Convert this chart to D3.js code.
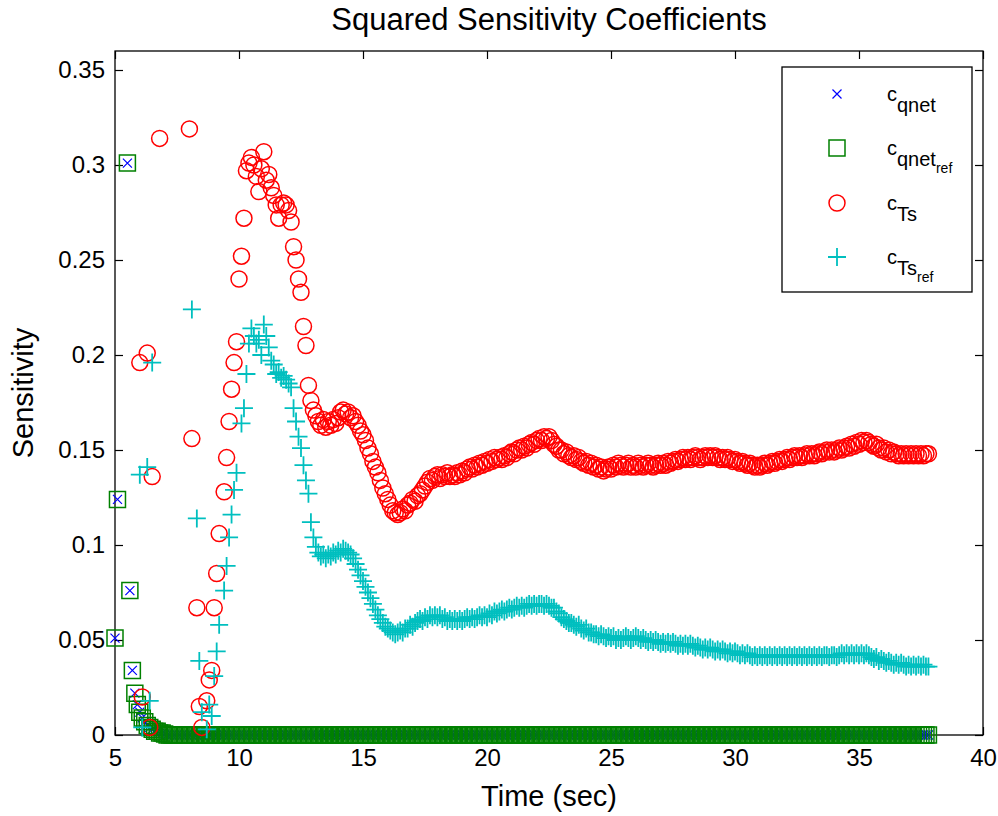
<!DOCTYPE html>
<html>
<head>
<meta charset="utf-8">
<script src="https://cdn.jsdelivr.net/npm/d3@7"></script>
<style>
  body { margin: 0; background: #fff; }
  text { font-family: "Liberation Sans", Arial, sans-serif; fill: #000; }
</style>
</head>
<body>
<svg id="chart"></svg>
<script>
// sample times (sec), one sample every 0.1 s
const time = [
  5.0, 5.1, 5.2, 5.3, 5.4, 5.5, 5.6, 5.7, 5.8, 5.9,
  6.0, 6.1, 6.2, 6.3, 6.4, 6.5, 6.6, 6.7, 6.8, 6.9,
  7.0, 7.1, 7.2, 7.3, 7.4, 7.5, 7.6, 7.7, 7.8, 7.9,
  8.0, 8.1, 8.2, 8.3, 8.4, 8.5, 8.6, 8.7, 8.8, 8.9,
  9.0, 9.1, 9.2, 9.3, 9.4, 9.5, 9.6, 9.7, 9.8, 9.9,
  10.0, 10.1, 10.2, 10.3, 10.4, 10.5, 10.6, 10.7, 10.8, 10.9,
  11.0, 11.1, 11.2, 11.3, 11.4, 11.5, 11.6, 11.7, 11.8, 11.9,
  12.0, 12.1, 12.2, 12.3, 12.4, 12.5, 12.6, 12.7, 12.8, 12.9,
  13.0, 13.1, 13.2, 13.3, 13.4, 13.5, 13.6, 13.7, 13.8, 13.9,
  14.0, 14.1, 14.2, 14.3, 14.4, 14.5, 14.6, 14.7, 14.8, 14.9,
  15.0, 15.1, 15.2, 15.3, 15.4, 15.5, 15.6, 15.7, 15.8, 15.9,
  16.0, 16.1, 16.2, 16.3, 16.4, 16.5, 16.6, 16.7, 16.8, 16.9,
  17.0, 17.1, 17.2, 17.3, 17.4, 17.5, 17.6, 17.7, 17.8, 17.9,
  18.0, 18.1, 18.2, 18.3, 18.4, 18.5, 18.6, 18.7, 18.8, 18.9,
  19.0, 19.1, 19.2, 19.3, 19.4, 19.5, 19.6, 19.7, 19.8, 19.9,
  20.0, 20.1, 20.2, 20.3, 20.4, 20.5, 20.6, 20.7, 20.8, 20.9,
  21.0, 21.1, 21.2, 21.3, 21.4, 21.5, 21.6, 21.7, 21.8, 21.9,
  22.0, 22.1, 22.2, 22.3, 22.4, 22.5, 22.6, 22.7, 22.8, 22.9,
  23.0, 23.1, 23.2, 23.3, 23.4, 23.5, 23.6, 23.7, 23.8, 23.9,
  24.0, 24.1, 24.2, 24.3, 24.4, 24.5, 24.6, 24.7, 24.8, 24.9,
  25.0, 25.1, 25.2, 25.3, 25.4, 25.5, 25.6, 25.7, 25.8, 25.9,
  26.0, 26.1, 26.2, 26.3, 26.4, 26.5, 26.6, 26.7, 26.8, 26.9,
  27.0, 27.1, 27.2, 27.3, 27.4, 27.5, 27.6, 27.7, 27.8, 27.9,
  28.0, 28.1, 28.2, 28.3, 28.4, 28.5, 28.6, 28.7, 28.8, 28.9,
  29.0, 29.1, 29.2, 29.3, 29.4, 29.5, 29.6, 29.7, 29.8, 29.9,
  30.0, 30.1, 30.2, 30.3, 30.4, 30.5, 30.6, 30.7, 30.8, 30.9,
  31.0, 31.1, 31.2, 31.3, 31.4, 31.5, 31.6, 31.7, 31.8, 31.9,
  32.0, 32.1, 32.2, 32.3, 32.4, 32.5, 32.6, 32.7, 32.8, 32.9,
  33.0, 33.1, 33.2, 33.3, 33.4, 33.5, 33.6, 33.7, 33.8, 33.9,
  34.0, 34.1, 34.2, 34.3, 34.4, 34.5, 34.6, 34.7, 34.8, 34.9,
  35.0, 35.1, 35.2, 35.3, 35.4, 35.5, 35.6, 35.7, 35.8, 35.9,
  36.0, 36.1, 36.2, 36.3, 36.4, 36.5, 36.6, 36.7, 36.8, 36.9,
  37.0, 37.1, 37.2, 37.3, 37.4, 37.5, 37.6, 37.7, 37.8
];

// null = no marker visible at that time (value above the axes)
const cQnet = [
  0.051, 0.124, null, null, null, 0.301, 0.076, 0.034, 0.022, 0.016,
  0.012, 0.009, 0.007, 0.005, 0.004, 0.003, 0.002, 0.002, 0.001, 0.001,
  0.0005, 0, 0, 0, 0, 0, 0, 0, 0, 0,
  0, 0, 0, 0, 0, 0, 0, 0, 0, 0,
  0, 0, 0, 0, 0, 0, 0, 0, 0, 0,
  0, 0, 0, 0, 0, 0, 0, 0, 0, 0,
  0, 0, 0, 0, 0, 0, 0, 0, 0, 0,
  0, 0, 0, 0, 0, 0, 0, 0, 0, 0,
  0, 0, 0, 0, 0, 0, 0, 0, 0, 0,
  0, 0, 0, 0, 0, 0, 0, 0, 0, 0,
  0, 0, 0, 0, 0, 0, 0, 0, 0, 0,
  0, 0, 0, 0, 0, 0, 0, 0, 0, 0,
  0, 0, 0, 0, 0, 0, 0, 0, 0, 0,
  0, 0, 0, 0, 0, 0, 0, 0, 0, 0,
  0, 0, 0, 0, 0, 0, 0, 0, 0, 0,
  0, 0, 0, 0, 0, 0, 0, 0, 0, 0,
  0, 0, 0, 0, 0, 0, 0, 0, 0, 0,
  0, 0, 0, 0, 0, 0, 0, 0, 0, 0,
  0, 0, 0, 0, 0, 0, 0, 0, 0, 0,
  0, 0, 0, 0, 0, 0, 0, 0, 0, 0,
  0, 0, 0, 0, 0, 0, 0, 0, 0, 0,
  0, 0, 0, 0, 0, 0, 0, 0, 0, 0,
  0, 0, 0, 0, 0, 0, 0, 0, 0, 0,
  0, 0, 0, 0, 0, 0, 0, 0, 0, 0,
  0, 0, 0, 0, 0, 0, 0, 0, 0, 0,
  0, 0, 0, 0, 0, 0, 0, 0, 0, 0,
  0, 0, 0, 0, 0, 0, 0, 0, 0, 0,
  0, 0, 0, 0, 0, 0, 0, 0, 0, 0,
  0, 0, 0, 0, 0, 0, 0, 0, 0, 0,
  0, 0, 0, 0, 0, 0, 0, 0, 0, 0,
  0, 0, 0, 0, 0, 0, 0, 0, 0, 0,
  0, 0, 0, 0, 0, 0, 0, 0, 0, 0,
  0, 0, 0, 0, 0, 0, 0, 0, 0
];

// the reference-model qnet coefficient lies exactly on top of cQnet
const cQnetRef = cQnet.slice();

const cTs = [
  null, null, null, null, null, null, null, null, null, null,
  0.196, 0.020, null, 0.201, 0.004, 0.136, null, null, 0.314, null,
  null, null, null, null, null, null, null, null, null, null,
  0.319, 0.156, null, 0.067, 0.015, 0.004, null, 0.018, 0.029, 0.034,
  0.067, 0.085, 0.106, null, 0.128, 0.146, 0.165, 0.182, 0.196, 0.207,
  0.240, 0.252, 0.272, 0.297, 0.301, 0.304, 0.300, 0.294, 0.286, 0.298,
  0.307, 0.292, 0.295, 0.288, 0.284, 0.279, 0.272, 0.279, 0.280, 0.279,
  0.276, 0.270, 0.257, 0.250, 0.240, 0.233, 0.215, 0.205, 0.184, 0.176,
  0.171, 0.168, 0.165, 0.163, 0.166, 0.162, 0.165, 0.163, 0.166, 0.164,
  0.167, 0.170, 0.171, 0.169, 0.170, 0.167, 0.168, 0.165, 0.163, 0.160,
  0.158, 0.155, 0.151, 0.148, 0.144, 0.141, 0.138, 0.134, 0.130, 0.127,
  0.124, 0.121, 0.118, 0.117, 0.116, 0.117, 0.119, 0.118, 0.121, 0.122,
  0.124, 0.123, 0.126, 0.127, 0.129, 0.131, 0.133, 0.135, 0.134, 0.136,
  0.137, 0.135, 0.137, 0.136, 0.138, 0.136, 0.137, 0.136, 0.138, 0.137,
  0.139, 0.138, 0.140, 0.141, 0.140, 0.142, 0.141, 0.143, 0.142, 0.144,
  0.143, 0.145, 0.144, 0.146, 0.145, 0.146, 0.145, 0.147, 0.146, 0.148,
  0.149, 0.148, 0.150, 0.151, 0.150, 0.152, 0.151, 0.153, 0.154, 0.153,
  0.155, 0.156, 0.155, 0.157, 0.156, 0.157, 0.155, 0.153, 0.152, 0.150,
  0.150, 0.148, 0.149, 0.147, 0.146, 0.147, 0.145, 0.146, 0.144, 0.143,
  0.144, 0.142, 0.143, 0.141, 0.142, 0.140, 0.141, 0.139, 0.140, 0.141,
  0.140, 0.142, 0.141, 0.143, 0.142, 0.141, 0.142, 0.143, 0.141, 0.142,
  0.141, 0.143, 0.142, 0.141, 0.142, 0.143, 0.142, 0.141, 0.142, 0.143,
  0.142, 0.143, 0.142, 0.144, 0.143, 0.144, 0.145, 0.144, 0.145, 0.146,
  0.145, 0.146, 0.145, 0.146, 0.147, 0.146, 0.145, 0.146, 0.147, 0.146,
  0.147, 0.146, 0.147, 0.146, 0.145, 0.146, 0.145, 0.146, 0.145, 0.144,
  0.145, 0.144, 0.143, 0.144, 0.143, 0.142, 0.143, 0.142, 0.141, 0.142,
  0.141, 0.142, 0.143, 0.142, 0.143, 0.144, 0.143, 0.144, 0.145, 0.144,
  0.145, 0.146, 0.145, 0.146, 0.147, 0.146, 0.147, 0.146, 0.147, 0.148,
  0.147, 0.148, 0.147, 0.148, 0.149, 0.148, 0.149, 0.150, 0.149, 0.150,
  0.149, 0.150, 0.151, 0.150, 0.151, 0.152, 0.151, 0.153, 0.152, 0.154,
  0.153, 0.155, 0.154, 0.155, 0.154, 0.153, 0.152, 0.153, 0.151, 0.150,
  0.151, 0.149, 0.150, 0.148, 0.149, 0.148, 0.147, 0.148, 0.147, 0.148,
  0.147, 0.148, 0.147, 0.148, 0.147, 0.148, 0.147, 0.148, 0.148
];

const cTsRef = [
  null, null, null, null, null, null, null, null, null, null,
  0.137, 0.004, null, 0.141, 0.018, 0.196, null, null, null, null,
  null, null, null, null, null, null, null, null, null, null,
  null, 0.224, null, 0.114, 0.039, 0.012, null, 0.003, 0.016, 0.010,
  0.031, 0.044, 0.058, null, 0.076, 0.089, 0.104, 0.116, 0.129, 0.138,
  null, 0.164, 0.172, 0.190, 0.206, 0.214, 0.210, 0.206, 0.208, 0.200,
  0.216, 0.210, 0.204, 0.197, 0.195, 0.190, 0.191, 0.188, 0.189, 0.187,
  0.185, 0.183, 0.172, 0.165, 0.157, 0.151, 0.142, 0.134, 0.127, 0.112,
  0.104, 0.099, 0.096, 0.094, 0.095, 0.093, 0.095, 0.094, 0.096, 0.095,
  0.097, 0.096, 0.098, 0.097, 0.096, 0.095, 0.093, 0.090, 0.087, 0.084,
  0.081, 0.078, 0.075, 0.072, 0.069, 0.066, 0.063, 0.061, 0.059, 0.057,
  0.056, 0.055, 0.054, 0.053, 0.054, 0.055, 0.054, 0.056, 0.056, 0.058,
  0.057, 0.059, 0.060, 0.061, 0.060, 0.062, 0.061, 0.063, 0.062, 0.063,
  0.062, 0.063, 0.061, 0.062, 0.060, 0.061, 0.060, 0.061, 0.060, 0.061,
  0.060, 0.061, 0.062, 0.061, 0.062, 0.061, 0.062, 0.063, 0.062, 0.063,
  0.062, 0.064, 0.063, 0.065, 0.064, 0.065, 0.066, 0.065, 0.066, 0.067,
  0.066, 0.067, 0.068, 0.067, 0.068, 0.067, 0.068, 0.069, 0.068, 0.069,
  0.068, 0.069, 0.069, 0.068, 0.069, 0.068, 0.067, 0.067, 0.065, 0.064,
  0.062, 0.061, 0.060, 0.059, 0.059, 0.058, 0.057, 0.058, 0.056, 0.055,
  0.056, 0.054, 0.054, 0.053, 0.053, 0.052, 0.053, 0.052, 0.051, 0.052,
  0.051, 0.052, 0.050, 0.051, 0.050, 0.051, 0.052, 0.051, 0.050, 0.051,
  0.052, 0.051, 0.050, 0.051, 0.050, 0.049, 0.050, 0.049, 0.050, 0.049,
  0.048, 0.049, 0.048, 0.049, 0.048, 0.049, 0.048, 0.047, 0.048, 0.047,
  0.048, 0.047, 0.048, 0.047, 0.046, 0.047, 0.046, 0.045, 0.046, 0.045,
  0.046, 0.045, 0.044, 0.045, 0.044, 0.045, 0.044, 0.043, 0.044, 0.043,
  0.044, 0.043, 0.042, 0.043, 0.042, 0.043, 0.042, 0.041, 0.042, 0.041,
  0.042, 0.041, 0.042, 0.041, 0.042, 0.041, 0.042, 0.041, 0.042, 0.041,
  0.042, 0.041, 0.042, 0.041, 0.042, 0.041, 0.042, 0.041, 0.042, 0.041,
  0.042, 0.041, 0.042, 0.041, 0.042, 0.041, 0.042, 0.042, 0.041, 0.042,
  0.042, 0.041, 0.042, 0.043, 0.042, 0.043, 0.042, 0.043, 0.042, 0.043,
  0.042, 0.043, 0.042, 0.043, 0.042, 0.041, 0.040, 0.041, 0.039, 0.040,
  0.039, 0.038, 0.039, 0.038, 0.037, 0.038, 0.037, 0.038, 0.037, 0.036,
  0.037, 0.036, 0.037, 0.036, 0.037, 0.036, 0.037, 0.036, 0.036
];

const xTicks = [5, 10, 15, 20, 25, 30, 35, 40];
const yTicks = [0, 0.05, 0.1, 0.15, 0.2, 0.25, 0.3, 0.35];

const width = 998;
const height = 816;

const svg = d3.select("#chart").attr("width", width).attr("height", height);

const x = d3.scaleLinear().domain([5, 40]).range([115, 983]);
const y = d3.scaleLinear().domain([0, 0.36]).range([735, 51]);

// marker shapes, drawn around (0,0)
var markers = {
  cross: { color: "#0000ff", width: 1.2, path: "M-4.5,-4.5L4.5,4.5M-4.5,4.5L4.5,-4.5" },
  square: { color: "#008000", width: 1.5, path: "M-8,-8H8V8H-8Z" },
  circle: { color: "#ff0000", width: 1.5, path: d3.symbol(d3.symbolCircle, Math.PI * 8 * 8)() },
  plus: { color: "#00bfbf", width: 1.8, path: "M-9,0H9M0,-9V9" }
};

var series = [
  { values: cQnet, marker: "cross", label: "c", sub: "qnet", subsub: "" },
  { values: cQnetRef, marker: "square", label: "c", sub: "qnet", subsub: "ref" },
  { values: cTs, marker: "circle", label: "c", sub: "Ts", subsub: "" },
  { values: cTsRef, marker: "plus", label: "c", sub: "Ts", subsub: "ref" }
];

// axes box
svg.append("rect")
  .attr("x", x(5)).attr("y", y(0.36))
  .attr("width", x(40) - x(5)).attr("height", y(0) - y(0.36))
  .attr("fill", "none").attr("stroke", "#000").attr("stroke-width", 1.3);

function styleAxis(g) {
  g.select(".domain").remove();
  g.selectAll(".tick line").attr("stroke", "#000").attr("stroke-width", 1.2);
  g.selectAll("text").attr("font-size", 24).attr("fill", "#000")
    .attr("font-family", "'Liberation Sans', Arial, sans-serif");
}

svg.append("g")
  .attr("transform", "translate(0," + y(0) + ")")
  .call(d3.axisBottom(x).tickValues(xTicks).tickSizeInner(-8).tickSizeOuter(0)
    .tickPadding(14).tickFormat(d3.format("d")))
  .call(styleAxis);

svg.append("g")
  .attr("transform", "translate(0," + y(0.36) + ")")
  .call(d3.axisTop(x).tickValues(xTicks).tickSizeInner(-8).tickSizeOuter(0).tickFormat(""))
  .call(styleAxis);

svg.append("g")
  .attr("transform", "translate(" + x(5) + ",0)")
  .call(d3.axisLeft(y).tickValues(yTicks).tickSizeInner(-8).tickSizeOuter(0)
    .tickPadding(10).tickFormat(function (d) { return String(+d.toFixed(2)); }))
  .call(styleAxis);

svg.append("g")
  .attr("transform", "translate(" + x(40) + ",0)")
  .call(d3.axisRight(y).tickValues(yTicks).tickSizeInner(-8).tickSizeOuter(0).tickFormat(""))
  .call(styleAxis);

// markers
series.forEach(function (s) {
  var m = markers[s.marker];
  var pts = time.map(function (t, i) { return { t: t, v: s.values[i] }; })
    .filter(function (d) { return d.v != null; });
  svg.append("g")
    .selectAll("path")
    .data(pts)
    .enter()
    .append("path")
    .attr("d", m.path)
    .attr("transform", function (d) { return "translate(" + x(d.t) + "," + y(d.v) + ")"; })
    .attr("fill", "none")
    .attr("stroke", m.color)
    .attr("stroke-width", m.width);
});

// titles
svg.append("text")
  .attr("x", (x(5) + x(40)) / 2).attr("y", 30)
  .attr("text-anchor", "middle").attr("font-size", 31)
  .text("Squared Sensitivity Coefficients");

svg.append("text")
  .attr("x", (x(5) + x(40)) / 2).attr("y", 806)
  .attr("text-anchor", "middle").attr("font-size", 29)
  .text("Time (sec)");

svg.append("text")
  .attr("transform", "translate(33," + (y(0) + y(0.36)) / 2 + ") rotate(-90)")
  .attr("text-anchor", "middle").attr("font-size", 29)
  .text("Sensitivity");

// legend
var legend = svg.append("g");
legend.append("rect")
  .attr("x", 782).attr("y", 67).attr("width", 190).attr("height", 225)
  .attr("fill", "#fff").attr("stroke", "#000").attr("stroke-width", 1.3);

var rowY = [94, 148, 203, 257];
series.forEach(function (s, i) {
  var m = markers[s.marker];
  legend.append("path")
    .attr("d", m.path)
    .attr("transform", "translate(837," + rowY[i] + ")")
    .attr("fill", "none").attr("stroke", m.color).attr("stroke-width", m.width);
  var t = legend.append("text")
    .attr("x", 887).attr("y", rowY[i] + 7)
    .attr("font-size", 20);
  t.append("tspan").text(s.label);
  t.append("tspan").attr("dy", 11).text(s.sub);
  if (s.subsub) {
    t.append("tspan").attr("dy", 7).attr("font-size", 14).text(s.subsub);
  }
});
</script>
</body>
</html>
